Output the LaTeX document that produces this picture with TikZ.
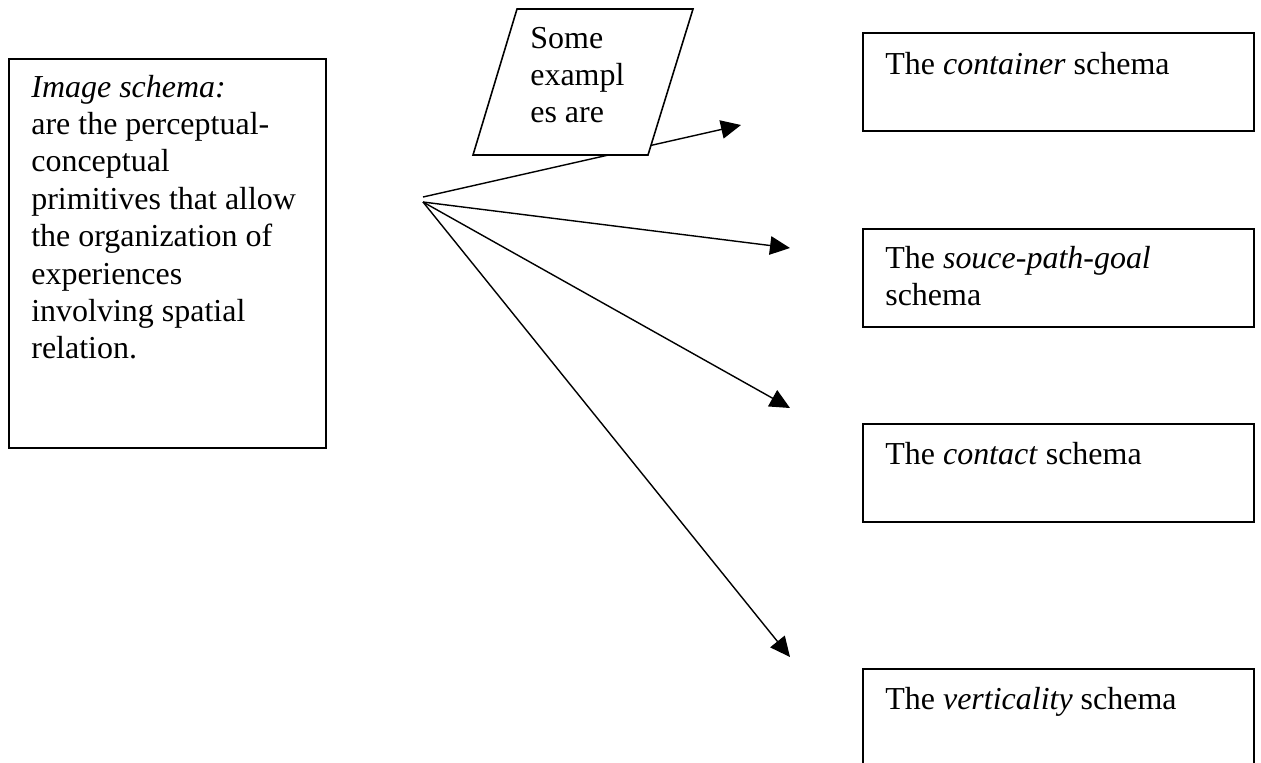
\documentclass[tikz,border=0pt]{standalone}
\usepackage{fontspec}
\setmainfont{Liberation Serif}
\usetikzlibrary{arrows.meta}
\begin{document}
\begin{tikzpicture}[x=0.02cm,y=-0.02cm,
  box/.style={draw,line width=0.9pt,inner sep=0pt,outer sep=0pt,anchor=north west,minimum width=7.82cm,minimum height=1.96cm},
  txt/.style={anchor=base west,inner sep=0pt,font=\fontsize{18.2}{21.3}\selectfont},
  arr/.style={line width=0.8pt,-{Triangle[length=0.4cm,width=0.37cm]}}]
\useasboundingbox (0,0) rectangle (1261,762);
\clip (0,0) rectangle (1261,762);
% left box
\node[box,minimum width=6.34cm,minimum height=7.78cm] (def) at (9,59) {};
\node[txt] (deftext) at (31,97) {\begin{tabular}[t]{@{}l@{}}\textit{Image schema:}\\are the perceptual-\\conceptual\\primitives that allow\\the organization of\\experiences\\involving spatial\\relation.\end{tabular}};
% hub and arrow ends
\coordinate (hubA) at (423,197);
\coordinate (hubB) at (423,202);
\coordinate (e1) at (741,125);
\coordinate (e2) at (790,248);
\coordinate (e3) at (790,408);
\coordinate (e4) at (790,657);
\draw[arr] (hubA) -- (e1);
\draw[arr] (hubB) -- (e2);
\draw[arr] (hubB) -- (e3);
\draw[arr] (hubB) -- (e4);
% parallelogram
\coordinate (p1) at (473,155);
\coordinate (p2) at (517,9);
\coordinate (p3) at (693,9);
\coordinate (p4) at (648,155);
\draw[line width=0.9pt,fill=white] (p1) -- (p2) -- (p3) -- (p4) -- cycle;
\node[txt] (ptext) at (530,48) {\begin{tabular}[t]{@{}l@{}}Some\\exampl\\es are\end{tabular}};
% right boxes
\node[box] (b1) at (863,33) {};
\node[txt] (t1) at (885,74) {The \textit{container} schema};
\node[box] (b2) at (863,229) {};
\node[txt] (t2) at (885,268) {\begin{tabular}[t]{@{}l@{}}The \textit{souce-path-goal}\\schema\end{tabular}};
\node[box] (b3) at (863,424) {};
\node[txt] (t3) at (885,464) {The \textit{contact} schema};
\node[box] (b4) at (863,669) {};
\node[txt] (t4) at (885,709) {The \textit{verticality} schema};
\end{tikzpicture}
\end{document}
